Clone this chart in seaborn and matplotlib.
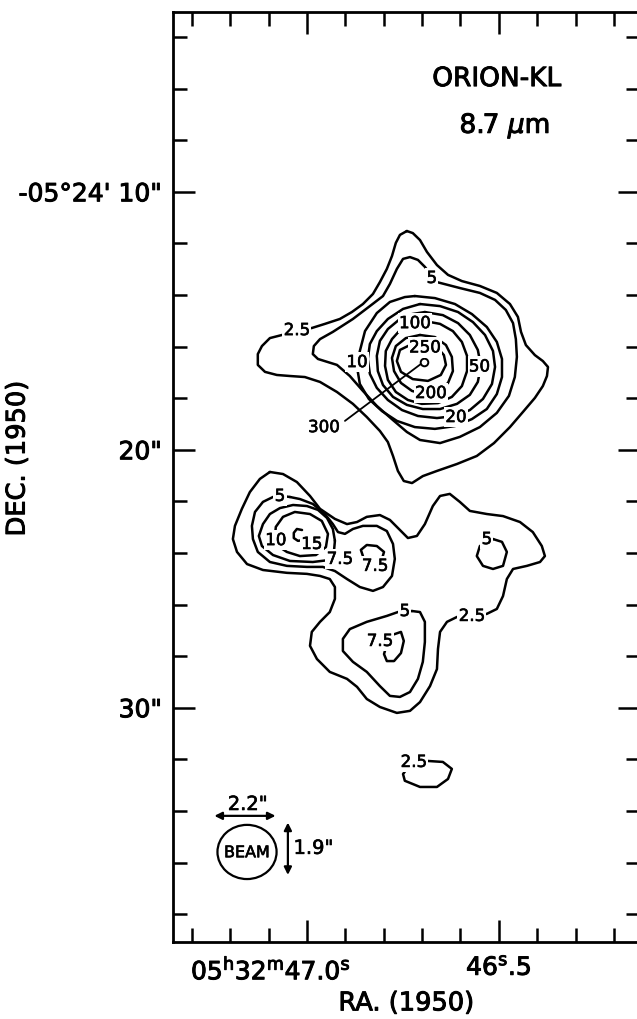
import numpy as np
import pandas as pd
import matplotlib
matplotlib.use("Agg")
import matplotlib.pyplot as plt
import matplotlib.patheffects as pe
import seaborn as sns
from matplotlib.patches import Ellipse
from matplotlib.transforms import ScaledTranslation

sns.set_theme(style="white")
plt.rcParams["font.family"] = ["DejaVu Sans"]
plt.rcParams["mathtext.fontset"] = "dejavusans"
for k in ["text.color", "axes.labelcolor", "xtick.color", "ytick.color", "axes.edgecolor"]:
    plt.rcParams[k] = "black"

# ---------------- data: contour paths (RA offset west of 05h32m47.0s ["], Dec seconds past -05d24' ["])
top_2p5 = [(3.89,11.52),(4.12,11.60),(4.40,11.87),(4.67,12.33),(5.06,12.84),(5.49,13.22),(6.03,13.46),(6.73,13.65),
           (7.39,13.92),(7.90,14.35),(8.21,14.85),(8.33,15.43),(8.52,15.94),(8.87,16.33),(9.18,16.56),(9.38,16.79),
           (9.34,17.14),(9.18,17.53),(8.87,17.99),(8.40,18.54),(7.90,19.12),(7.28,19.74),(6.61,20.24),(5.84,20.55),
           (5.06,20.82),(4.51,21.02),(4.09,21.29),(3.77,21.21),(3.54,20.82),(3.35,20.24),(3.15,19.70),(2.84,19.27),
           (2.33,18.73),(1.79,18.22),(1.17,17.76),(0.51,17.37),(-0.08,17.18),(-0.66,17.14),(-1.17,17.10),(-1.63,16.98),
           (-1.91,16.71),(-1.91,16.29),(-1.75,15.98),(-1.44,15.67),(-0.97,15.55),(-0.39,15.36),(0.19,15.28),(0.70,15.12),
           (1.28,14.93),(1.75,14.66),(2.18,14.35),(2.57,13.96),(2.84,13.50),(3.11,12.99),(3.31,12.49),(3.46,11.98),
           (3.62,11.67),(3.89,11.52)]
top_5 = [(4.86,13.26),(4.59,12.91),(4.32,12.64),(4.01,12.53),(3.74,12.60),(3.50,12.99),(3.23,13.57),(2.96,14.04),
         (2.45,14.43),(1.79,14.93),(1.01,15.43),(0.51,15.71),(0.27,15.98),(0.23,16.29),(0.43,16.48),(1.17,16.71),
         (1.67,17.14),(2.18,17.72),(2.72,18.30),(3.35,18.85),(3.89,19.31),(4.40,19.62),(5.18,19.74),(5.95,19.50),
         (6.73,19.12),(7.39,18.57),(7.86,17.91),(8.09,17.18),(8.17,16.40),(8.13,15.71),(8.02,15.09),(7.74,14.58),
         (7.32,14.19),(6.73,13.92),(5.95,13.73),(5.06,13.50),(4.86,13.26)]
top_10 = [(4.20,14.04),(4.98,14.12),(5.76,14.35),(6.42,14.74),(7.00,15.24),(7.39,15.82),(7.59,16.48),(7.59,17.18),
          (7.39,17.84),(7.00,18.42),(6.42,18.81),(5.76,19.08),(4.98,19.19),(4.20,19.12),(3.50,18.88),(2.92,18.50),
          (2.41,18.03),(2.06,17.45),(1.95,16.79),(2.06,16.17),(2.26,15.40),(2.72,14.70),(3.23,14.27),(3.81,14.08),
          (4.20,14.04)]
top_20 = [(4.40,14.35),(5.18,14.43),(5.88,14.66),(6.46,15.05),(6.93,15.55),(7.24,16.17),(7.32,16.79),(7.20,17.45),
          (6.85,18.03),(6.34,18.46),(5.76,18.69),(5.06,18.77),(4.32,18.69),(3.70,18.46),(3.15,18.07),(2.72,17.60),
          (2.45,17.06),(2.37,16.48),(2.45,15.90),(2.72,15.40),(3.15,14.93),(3.74,14.54),(4.40,14.35)]
top_50 = [(4.59,14.66),(5.29,14.78),(5.88,15.09),(6.34,15.55),(6.65,16.13),(6.77,16.75),(6.65,17.37),(6.34,17.87),
          (5.84,18.22),(5.18,18.42),(4.51,18.42),(3.89,18.26),(3.35,17.95),(2.96,17.49),(2.76,16.95),(2.72,16.36),
          (2.84,15.78),(3.15,15.32),(3.62,14.93),(4.09,14.74),(4.59,14.66)]
top_100 = [(4.59,15.01),(5.18,15.12),(5.68,15.40),(6.03,15.82),(6.23,16.36),(6.23,16.95),(6.03,17.53),(5.64,17.95),
           (5.10,18.19),(4.47,18.22),(3.93,18.07),(3.46,17.76),(3.15,17.29),(3.04,16.75),(3.07,16.17),(3.31,15.71),
           (3.66,15.32),(4.09,15.09),(4.59,15.01)]
top_200 = [(4.40,15.55),(4.98,15.63),(5.41,15.94),(5.64,16.40),(5.68,16.95),(5.49,17.41),(5.10,17.72),(4.59,17.84),
           (4.09,17.72),(3.66,17.41),(3.39,16.95),(3.31,16.44),(3.46,15.98),(3.85,15.67),(4.40,15.55)]
top_250 = [(4.59,15.90),(5.06,16.02),(5.33,16.33),(5.41,16.71),(5.21,17.10),(4.71,17.33),(4.12,17.26),(3.66,16.98),
           (3.50,16.56),(3.62,16.13),(4.01,15.94),(4.59,15.90)]
peak_300 = (4.55, 16.60)

low_2p5 = [(-1.44,20.86),(-0.93,20.94),(-0.39,21.25),(0.12,21.79),(0.51,22.29),(1.09,22.68),(1.56,22.88),(1.95,22.80),
           (2.33,22.60),(2.84,22.53),(3.23,22.72),(3.62,23.11),(3.93,23.42),(4.28,23.34),(4.59,22.88),(4.90,22.18),
           (5.18,21.79),(5.56,21.71),(5.95,22.02),(6.34,22.37),(7.00,22.49),(7.63,22.57),(8.29,22.80),(8.79,23.19),
           (9.14,23.73),(9.26,24.12),(9.07,24.35),(8.56,24.50),(8.02,24.62),(7.78,25.01),(7.63,25.67),(7.39,26.17),
           (7.00,26.36),(6.42,26.44),(5.84,26.48),(5.45,26.67),(5.18,27.06),(5.10,27.72),(5.06,28.50),(4.79,29.16),
           (4.40,29.78),(4.01,30.12),(3.50,30.20),(2.84,29.97),(2.33,29.66),(1.95,29.19),(1.56,28.88),(0.89,28.61),
           (0.39,28.11),(0.12,27.60),(0.19,27.06),(0.51,26.67),(0.89,26.29),(1.09,25.78),(1.09,25.32),(0.89,25.01),
           (0.51,24.89),(0.00,24.81),(-0.78,24.77),(-1.71,24.66),(-2.33,24.43),(-2.72,23.96),(-2.88,23.46),(-2.80,22.95),
           (-2.53,22.29),(-2.22,21.64),(-1.83,21.13),(-1.44,20.86)]
low_5a = [(-0.66,21.83),(-0.27,21.91),(0.23,22.10),(0.70,22.49),(1.01,22.88),(1.21,23.19),(1.48,23.26),(1.79,23.07),
          (2.18,22.95),(2.72,22.95),(3.11,23.15),(3.35,23.65),(3.42,24.23),(3.31,24.89),(2.96,25.32),(2.57,25.47),
          (2.06,25.32),(1.56,25.01),(1.09,24.70),(0.62,24.54),(0.00,24.54),(-0.78,24.50),(-1.44,24.35),(-1.91,23.96),
          (-2.10,23.46),(-2.14,22.95),(-2.02,22.41),(-1.71,22.02),(-1.32,21.83),(-0.97,21.79),(-0.66,21.83)]
low_7p5a = [(1.09,23.53),(1.05,23.96),(0.89,24.27),(0.23,24.35),(-0.66,24.31),(-1.32,24.08),(-1.75,23.73),(-1.87,23.34),
            (-1.71,22.88),(-1.44,22.49),(-1.05,22.26),(-0.54,22.14),(0.00,22.18),(0.43,22.33),(0.78,22.64),(1.01,23.07),
            (1.09,23.53)]
low_10 = [(-1.25,23.46),(-1.21,22.99),(-0.93,22.60),(-0.47,22.41),(0.12,22.49),(0.58,22.76),(0.82,23.26),(0.74,23.77),
          (0.35,24.08),(-0.27,24.12),(-0.78,23.96),(-1.13,23.73),(-1.25,23.46)]
low_15 = [(-0.19,23.11),(-0.39,23.07),(-0.51,23.22),(-0.51,23.42),(-0.35,23.53),(-0.16,23.50)]
low_7p5b = [(2.18,24.12),(2.10,23.88),(2.33,23.69),(2.72,23.73),(3.00,23.96),(2.92,24.23)]
low_5b = [(4.09,26.25),(4.40,26.29),(4.59,26.67),(4.59,27.45),(4.51,28.22),(4.32,28.88),(4.01,29.39),(3.62,29.58),
          (3.23,29.54),(2.84,29.16),(2.33,28.61),(1.79,28.22),(1.40,27.80),(1.40,27.33),(1.67,26.95),(2.33,26.67),
          (3.11,26.44),(3.54,26.29),(4.09,26.25)]
low_7p5c = [(3.31,27.18),(3.66,27.06),(3.77,27.41),(3.66,27.88),(3.39,28.19),(3.11,28.19),(3.00,27.92),(3.07,27.68)]
low_5c = [(7.24,23.46),(7.59,23.57),(7.78,23.96),(7.63,24.50),(7.24,24.62),(6.85,24.50),(6.61,24.12),(6.73,23.73),
          (7.24,23.46)]
south_2p5 = [(4.67,32.06),(5.29,32.10),(5.64,32.37),(5.49,32.76),(5.06,33.07),(4.40,33.07),(3.81,32.83),(3.74,32.57),
             (3.89,32.37),(4.20,32.14),(4.67,32.06)]

contour_labels = [("2.5", -0.39, 15.36), ("5", 4.86, 13.34), ("10", 1.95, 16.60), ("100", 4.20, 15.09),
                  ("250", 4.59, 16.03), ("50", 6.71, 16.77), ("200", 4.82, 17.80), ("20", 5.80, 18.73),
                  ("5", -1.05, 21.79), ("10", -1.21, 23.50), ("15", 0.19, 23.65), ("7.5", 1.28, 24.23),
                  ("7.5", 2.65, 24.50), ("5", 7.00, 23.46), ("5", 3.81, 26.25), ("2.5", 6.42, 26.44),
                  ("7.5", 2.84, 27.41), ("2.5", 4.16, 32.10)]
label_300 = ("300", 0.66, 19.12)
pointer_300 = [(1.48, 18.88), (4.44, 16.67)]

ra_tick_s = [47.3, 47.2, 47.1, 47.0, 46.9, 46.8, 46.7, 46.6, 46.5, 46.4, 46.3, 46.2]
ra_major_s = [47.0, 46.5]
ra_major_labels = [r"05$^{\rm h}$32$^{\rm m}$47.0$^{\rm s}$", r"46$^{\rm s}$.5"]
dec_major = [10, 20, 30]
dec_major_labels = ["-05\u00b024' 10\"", "20\"", "30\""]
dec_minor = [4, 6, 8, 12, 14, 16, 18, 22, 24, 26, 28, 32, 34, 36, 38]

beam_major, beam_minor = 2.2, 1.9

# ---------------- build long table
paths = [("top_2p5", top_2p5), ("top_5", top_5), ("top_10", top_10), ("top_20", top_20), ("top_50", top_50),
         ("top_100", top_100), ("top_200", top_200), ("top_250", top_250), ("low_2p5", low_2p5),
         ("low_5a", low_5a), ("low_7p5a", low_7p5a), ("low_10", low_10), ("low_15", low_15),
         ("low_7p5b", low_7p5b), ("low_5b", low_5b), ("low_7p5c", low_7p5c), ("low_5c", low_5c),
         ("south_2p5", south_2p5)]
rows = []
for name, pts in paths:
    for i, (x, y) in enumerate(pts):
        rows.append({"cid": name, "order": i, "ra": x, "dec": y})
df = pd.DataFrame(rows)

cosd = np.cos(np.deg2rad(5.0 + 24.0 / 60 + 16.0 / 3600))
def ra_to_off(s):
    return (47.0 - np.asarray(s)) * 15.0 * cosd

heavy = [pe.withStroke(linewidth=0.7, foreground="black")]
heavy_s = [pe.withStroke(linewidth=0.45, foreground="black")]

# ---------------- figure
fig = plt.figure(figsize=(6.37, 10.20), dpi=100)
ax = fig.add_axes([173 / 637, 1 - 943 / 1020, 467 / 637, 930 / 1020])

sns.lineplot(data=df, x="ra", y="dec", units="cid", estimator=None, sort=False,
             color="black", linewidth=1.8, ax=ax, legend=False)

ax.scatter([peak_300[0]], [peak_300[1]], s=30, facecolor="white", edgecolor="black", linewidth=1.4, zorder=6)
ax.plot([p[0] for p in pointer_300], [p[1] for p in pointer_300], color="black", lw=1.3, zorder=5)

for txt, x, y in contour_labels:
    ax.text(x, y, txt, ha="center", va="center", fontsize=12, color="black", zorder=7, path_effects=heavy_s,
            bbox=dict(boxstyle="square,pad=0.08", fc="white", ec="none"))
ax.text(label_300[1], label_300[2], label_300[0], ha="center", va="center", fontsize=12, color="black", zorder=7,
        path_effects=heavy_s, bbox=dict(boxstyle="square,pad=0.08", fc="white", ec="none"))

# beam
ax.add_patch(Ellipse((-2.33, 35.59), 2.3, 2.1, fill=False, ec="black", lw=1.6, zorder=5))
ax.text(-2.33, 35.62, "BEAM", ha="center", va="center", fontsize=11.5, path_effects=heavy_s)
ax.annotate("", xy=(-3.60, 34.19), xytext=(-1.22, 34.19),
            arrowprops=dict(arrowstyle="<|-|>", color="black", lw=1.6, mutation_scale=11, shrinkA=0, shrinkB=0))
ax.text(-2.30, 33.75, f'{beam_major}"', ha="center", va="center", fontsize=14, path_effects=heavy_s)
ax.annotate("", xy=(-0.74, 34.45), xytext=(-0.74, 36.48),
            arrowprops=dict(arrowstyle="<|-|>", color="black", lw=1.6, mutation_scale=11, shrinkA=0, shrinkB=0))
ax.text(-0.52, 35.45, f'{beam_minor}"', ha="left", va="center", fontsize=14, path_effects=heavy_s)

# title text
ax.text(7.39, 5.63, "ORION-KL", ha="center", va="center", fontsize=19, path_effects=heavy)
ax.text(7.70, 7.45, r"8.7 $\mu$m", ha="center", va="center", fontsize=19, path_effects=heavy)

# axes
ax.set_xlim(-5.21, 12.96)
ax.set_ylim(39.08, 3.03)
ax.set_xticks(ra_to_off(ra_major_s))
ax.set_xticklabels(ra_major_labels, fontsize=18)
ax.set_xticks(ra_to_off([s for s in ra_tick_s if s not in ra_major_s]), minor=True)
ax.set_yticks(dec_major)
ax.set_yticklabels(dec_major_labels, fontsize=18)
ax.set_yticks(dec_minor, minor=True)
ax.tick_params(which="both", direction="in", bottom=True, left=True, top=True, right=True,
               color="black", width=1.8)
ax.tick_params(which="major", length=16, pad=8)
ax.tick_params(which="minor", length=10)
ax.tick_params(axis="x", which="major", pad=10)
for sp in ax.spines.values():
    sp.set_color("black")
    sp.set_linewidth(2.0)
ax.grid(False)

ax.set_xlabel("RA. (1950)", fontsize=18.5)
ax.set_ylabel("DEC. (1950)", fontsize=18.5)
ax.xaxis.set_label_coords(0.5, -0.052)
ax.yaxis.set_label_coords(-0.305, 0.52)
ax.xaxis.label.set_path_effects(heavy)
ax.yaxis.label.set_path_effects(heavy)

for lab in ax.get_xticklabels() + ax.get_yticklabels():
    lab.set_path_effects(heavy)
lab0 = ax.get_xticklabels()[0]
lab0.set_transform(lab0.get_transform() + ScaledTranslation(-0.36, 0, fig.dpi_scale_trans))

fig.savefig("out.png", dpi=100, facecolor="white")
